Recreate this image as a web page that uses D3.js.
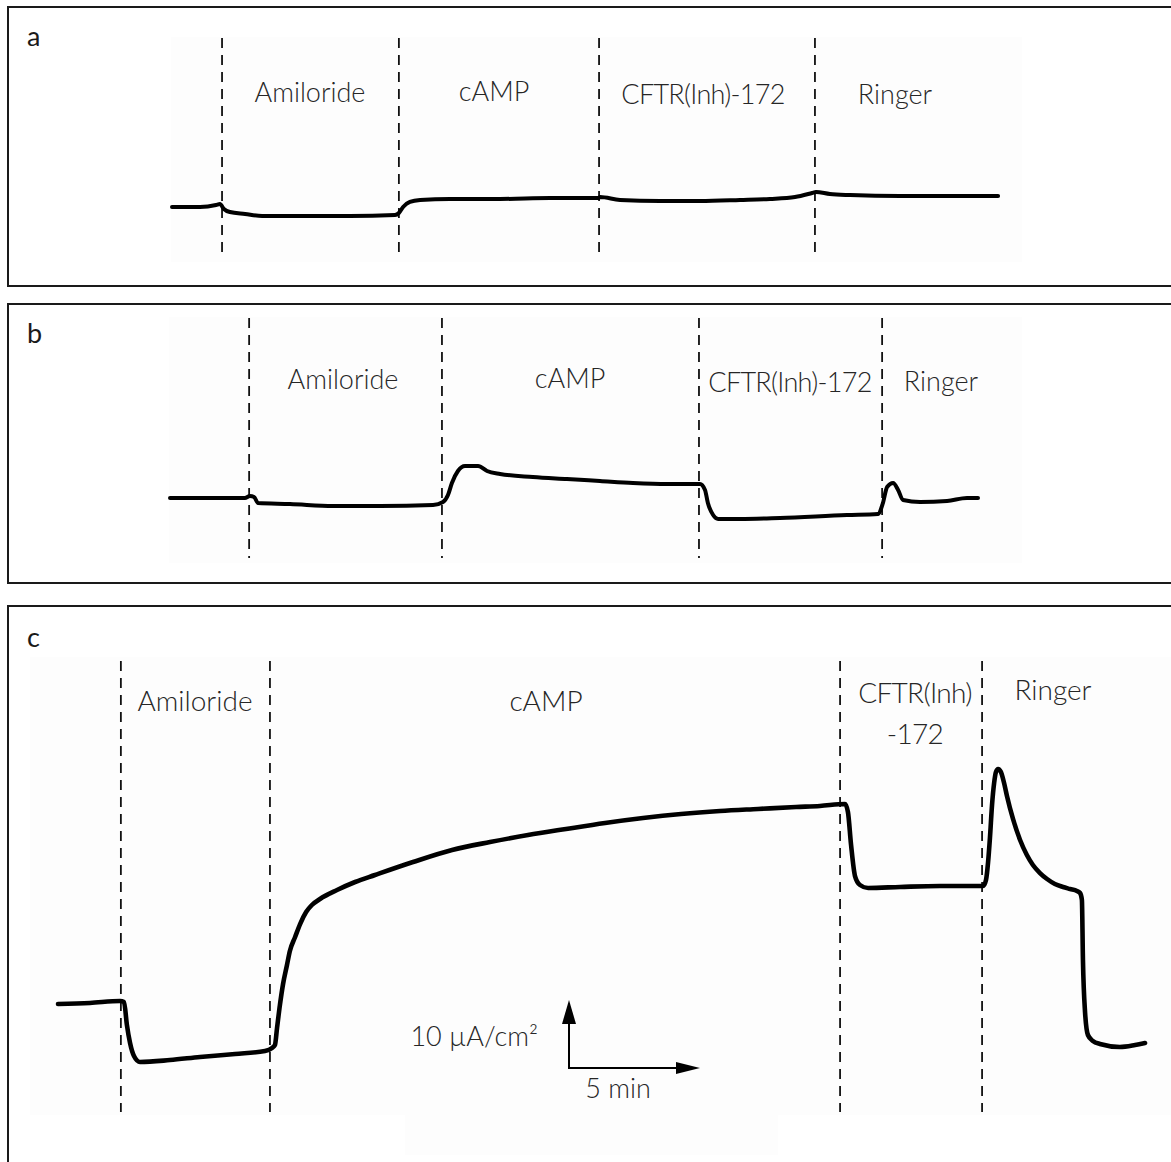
<!DOCTYPE html>
<html>
<head>
<meta charset="utf-8">
<script src="https://cdn.jsdelivr.net/npm/d3@7"></script>
<style>
  html, body { margin: 0; padding: 0; background: #ffffff; }
  svg { display: block; }
  .phase { font-family: Lato, "Open Sans", sans-serif; font-weight: 300; fill: #262626; }
  .tag { font-family: Lato, "Open Sans", sans-serif; font-weight: 400; fill: #1a1a1a; }
</style>
</head>
<body>
<svg id="chart" width="1171" height="1162"></svg>
<script>
// Short-circuit current (ΔIsc, µA/cm²) against time (min) for three Ussing-chamber recordings.

// Phase names and the times (min) at which each solution was added
const phaseNames = ["Amiloride", "cAMP", "CFTR(Inh)-172", "Ringer"];
const phaseNamesC = ["Amiloride", "cAMP", "CFTR(Inh)\n-172", "Ringer"];
const additionsA = [1.91, 8.66, 16.30, 24.54];
const additionsB = [3.02, 10.38, 20.19, 27.18];
const additionsC = [2.40, 8.09, 29.85, 35.27];

// Recording a
const timeA = [0, 1.07, 1.68, 1.83, 1.98, 2.21, 2.79, 3.44, 4.89, 6.79, 8.51, 8.66, 8.82, 9.08, 9.47,
  10.61, 12.52, 14.43, 16.26, 16.34, 17.10, 18.63, 20.15, 21.68, 22.82, 23.78, 24.43, 24.58, 25.11,
  25.88, 27.79, 29.62, 31.53];
const currentA = [0, 0, 0.29, 0.44, -0.29, -0.74, -1.03, -1.32, -1.32, -1.32, -1.18, -0.88, 0, 0.74, 1.03,
  1.18, 1.18, 1.32, 1.32, 1.47, 1.03, 0.88, 0.88, 1.03, 1.18, 1.47, 2.06, 2.21, 1.91,
  1.76, 1.62, 1.62, 1.62];

// Recording b
const timeB = [0, 1.15, 2.86, 3.05, 3.21, 3.36, 4.58, 6.22, 8.02, 10.04, 10.42, 10.61, 10.76, 10.99, 11.26,
  11.76, 12.10, 12.60, 13.85, 15.15, 16.41, 17.67, 18.97, 20.23, 20.42, 20.53, 20.73, 20.92, 21.76,
  23.28, 25.84, 27.02, 27.21, 27.37, 27.60, 27.79, 27.98, 28.63, 29.66, 30.42, 30.84];
const currentB = [0, 0, 0, 0.29, 0.15, -0.74, -0.88, -1.18, -1.18, -1.03, -0.59, 0.44, 2.21, 3.97, 4.71,
  4.71, 3.97, 3.53, 3.09, 2.79, 2.50, 2.21, 2.06, 2.06, 1.18, -0.74, -2.50, -3.09, -3.09,
  -2.94, -2.50, -2.35, -0.74, 1.62, 2.21, 1.18, -0.29, -0.59, -0.44, 0, 0];

// Recording c
const timeC = [0, 1.22, 2.37, 2.52, 2.63, 2.75, 2.90, 3.13, 4.27, 5.42, 6.76, 7.90, 8.17, 8.28, 8.36,
  8.47, 8.59, 8.74, 8.85, 9.05, 9.24, 9.47, 9.69, 10.0, 10.65, 11.34, 12.10, 13.55, 15.04, 16.49, 17.94, 19.39,
  20.88, 22.33, 23.78, 25.27, 26.72, 28.17, 29.08, 30.04, 30.15, 30.27, 30.42, 30.61, 30.92, 32.14,
  33.66, 35.31, 35.42, 35.50, 35.57, 35.65, 35.73, 35.80, 35.88, 35.99, 36.11, 36.22, 36.45, 36.72,
  36.98, 37.21, 37.48, 37.75, 38.05, 38.36, 38.63, 38.89, 39.01, 39.08,
  39.12, 39.20, 39.31, 39.50, 39.77, 40.53, 41.11, 41.49];
const currentC = [0, 0.15, 0.44, 0.29, -3.09, -5.74, -7.65, -8.53, -8.24, -7.79, -7.35, -6.91, -6.47, -6.03, -3.53,
  -0.15, 2.94, 5.74, 7.79, 9.85, 11.76, 13.53, 14.56, 15.44, 16.76, 17.94, 18.97, 20.88, 22.65, 23.82, 24.85, 25.74,
  26.62, 27.35, 27.94, 28.38, 28.68, 28.97, 29.12, 29.41, 28.24, 23.38, 18.82, 17.5, 17.06, 17.21,
  17.35, 17.35, 18.24, 20.88, 24.41, 29.26, 32.50, 34.12, 34.56, 34.12, 32.50, 30.59, 27.21, 24.12,
  21.91, 20.44, 19.26, 18.38, 17.65, 17.21, 16.91, 16.62, 16.32, 15.29,
  6.47, -1.18, -4.56, -5.44, -5.88, -6.32, -6.03, -5.74];

// Scale bar
const scaleBarCurrent = 10;   // µA/cm²
const scaleBarTime = 5;       // min
const scaleBarCurrentLabel = "10 µA/cm²";
const scaleBarTimeLabel = "5 min";

// ---- layout ----
const PX_PER_MIN = 26.2;
const PX_PER_UA = 6.8;

const panels = [
  { tag: "a", time: timeA, current: currentA, additions: additionsA, names: phaseNames,
    box: { x: 8, y: 7, h: 279 }, tagPos: [27, 46],
    origin: [172, 207], span: [0, 31.6], yDomain: [-4, 4],
    dash: [38, 258], shade: [171, 37, 851, 225], lineWidth: 4,
    labelX: [310, 494, 703, 895], labelY: [102, 101, 104, 104], fontSize: 27 },
  { tag: "b", time: timeB, current: currentB, additions: additionsB, names: phaseNames,
    box: { x: 8, y: 304, h: 279 }, tagPos: [27, 343],
    origin: [170, 498], span: [0, 31], yDomain: [-5, 6],
    dash: [318, 558], shade: [169, 317, 853, 246], lineWidth: 4,
    labelX: [343, 570, 790, 941], labelY: [389, 388, 392, 391], fontSize: 27 },
  { tag: "c", time: timeC, current: currentC, additions: additionsC, names: phaseNamesC,
    box: { x: 8, y: 606, h: 600 }, tagPos: [27, 647],
    origin: [58, 1004], span: [0, 41.6], yDomain: [-12, 36],
    dash: [661, 1112], shade: [30, 657, 1141, 458], lineWidth: 4.6,
    labelX: [195, 546, 915, 1053], labelY: [711, 711, 703, 700], fontSize: 28 }
];

const svg = d3.select("#chart");

panels.forEach((p, pi) => {
  const g = svg.append("g");

  // faint background of the recording area
  g.append("rect")
    .attr("x", p.shade[0]).attr("y", p.shade[1])
    .attr("width", p.shade[2]).attr("height", p.shade[3])
    .attr("fill", "#fdfdfd");
  if (pi === 2) {
    g.append("rect").attr("x", 405).attr("y", 1115).attr("width", 373).attr("height", 40)
      .attr("fill", "#fdfdfd");
  }

  // panel frame (runs past the right edge)
  g.append("rect")
    .attr("x", p.box.x).attr("y", p.box.y)
    .attr("width", 1200).attr("height", p.box.h)
    .attr("fill", "none").attr("stroke", "#1a1a1a").attr("stroke-width", 2);

  g.append("text").attr("class", "tag")
    .attr("x", p.tagPos[0]).attr("y", p.tagPos[1])
    .attr("font-size", 27).text(p.tag);

  const x = d3.scaleLinear()
    .domain(p.span)
    .range([p.origin[0], p.origin[0] + (p.span[1] - p.span[0]) * PX_PER_MIN]);
  const y = d3.scaleLinear()
    .domain(p.yDomain)
    .range([p.origin[1] - p.yDomain[0] * PX_PER_UA, p.origin[1] - p.yDomain[1] * PX_PER_UA]);

  // solution-change markers
  g.selectAll("line.marker").data(p.additions).join("line")
    .attr("class", "marker")
    .attr("x1", d => x(d)).attr("x2", d => x(d))
    .attr("y1", p.dash[0]).attr("y2", p.dash[1])
    .attr("stroke", "#111").attr("stroke-width", 1.8)
    .attr("stroke-dasharray", "10,7");

  // phase labels
  p.names.forEach((name, i) => {
    const lines = name.split("\n");
    const t = g.append("text").attr("class", "phase")
      .attr("x", p.labelX[i]).attr("y", p.labelY[i])
      .attr("font-size", p.fontSize)
      .attr("letter-spacing", name.startsWith("CFTR") ? -0.7 : 0)
      .attr("text-anchor", "middle");
    lines.forEach((ln, k) => {
      t.append("tspan").attr("x", p.labelX[i]).attr("dy", k === 0 ? 0 : 41).text(ln);
    });
  });

  // trace
  const pts = p.time.map((t, i) => [t, p.current[i]]);
  const line = d3.line().x(d => x(d[0])).y(d => y(d[1])).curve(d3.curveMonotoneX);
  g.append("path").datum(pts)
    .attr("d", line)
    .attr("fill", "none").attr("stroke", "#000")
    .attr("stroke-width", p.lineWidth)
    .attr("stroke-linejoin", "round").attr("stroke-linecap", "round");

  // scale bar for recording c
  if (pi === 2) {
    const ox = 569, oy = 1068;
    const sx = d3.scaleLinear().domain([0, scaleBarTime]).range([ox, ox + scaleBarTime * PX_PER_MIN]);
    const sy = d3.scaleLinear().domain([0, scaleBarCurrent]).range([oy, oy - scaleBarCurrent * PX_PER_UA]);
    const vTop = sy(scaleBarCurrent), hEnd = sx(scaleBarTime);
    g.append("line").attr("x1", ox).attr("y1", oy).attr("x2", ox).attr("y2", vTop + 20)
      .attr("stroke", "#000").attr("stroke-width", 2);
    g.append("path")
      .attr("d", `M${ox},${vTop} L${ox - 7},${vTop + 24} L${ox + 7},${vTop + 24} Z`)
      .attr("fill", "#000");
    g.append("line").attr("x1", ox - 1).attr("y1", oy).attr("x2", hEnd - 20).attr("y2", oy)
      .attr("stroke", "#000").attr("stroke-width", 2);
    g.append("path")
      .attr("d", `M${hEnd},${oy} L${hEnd - 24},${oy - 6} L${hEnd - 24},${oy + 6} Z`)
      .attr("fill", "#000");
    g.append("text").attr("class", "phase")
      .attr("x", 538).attr("y", 1046).attr("text-anchor", "end")
      .attr("font-size", 27).text(scaleBarCurrentLabel);
    g.append("text").attr("class", "phase")
      .attr("x", 618).attr("y", 1098).attr("text-anchor", "middle")
      .attr("font-size", 27).text(scaleBarTimeLabel);
  }
});
</script>
</body>
</html>
